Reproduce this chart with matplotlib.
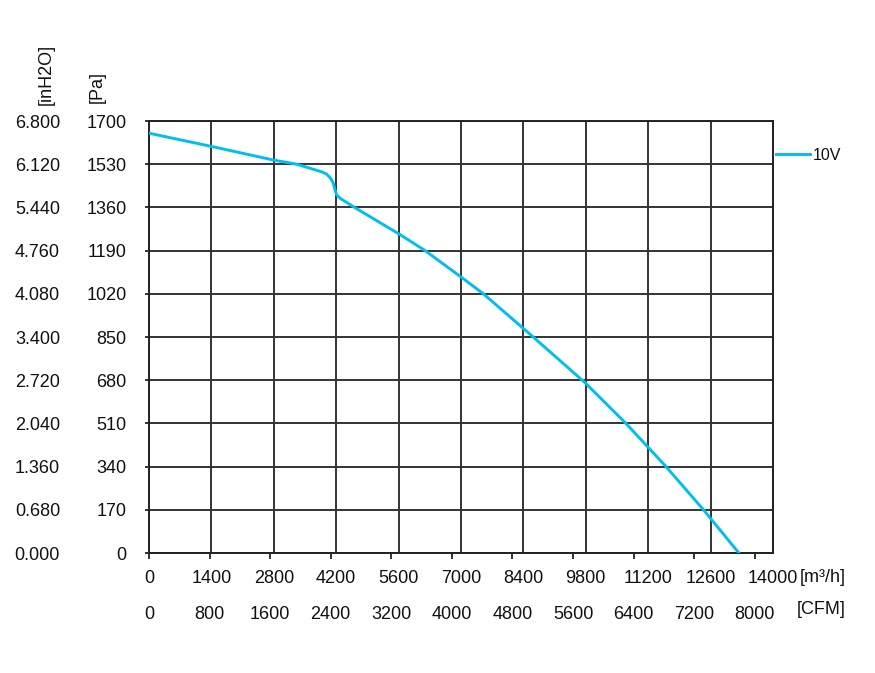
import matplotlib
matplotlib.use("Agg")
import matplotlib.pyplot as plt
import numpy as np

plt.rcParams['font.family'] = ['Liberation Sans', 'DejaVu Sans']

# Data (airflow m3/h, static pressure Pa)
flow_m3h = [0, 1400, 2800, 3314, 3875, 3987, 4077, 4136, 4174, 4212, 4286,
            4610, 5633, 6194, 7017, 7502, 8620, 9784, 10700, 11600, 12440, 13235]
pressure_pa = [1652, 1600, 1546, 1530, 1500, 1491, 1474, 1455, 1428, 1409, 1396,
               1360, 1253, 1190, 1084, 1020, 850, 670, 510, 340, 170, 0]
series_label = "10V"

x_ticks_m3h = [0, 1400, 2800, 4200, 5600, 7000, 8400, 9800, 11200, 12600, 14000]
x_ticks_cfm = [0, 800, 1600, 2400, 3200, 4000, 4800, 5600, 6400, 7200, 8000]
y_ticks_pa = [0, 170, 340, 510, 680, 850, 1020, 1190, 1360, 1530, 1700]
y_ticks_inh2o = [0.0, 0.68, 1.36, 2.04, 2.72, 3.40, 4.08, 4.76, 5.44, 6.12, 6.80]

M3H_PER_CFM = 1.699
INH2O_PER_PA = 0.004

W, H = 875, 673
fig = plt.figure(figsize=(W / 100, H / 100), dpi=100)
L, R, T, B = 149, 773, 121, 553
ax = fig.add_axes([L / W, (H - B) / H, (R - L) / W, (B - T) / H])

ax.plot(flow_m3h, pressure_pa, color='#00BFF0', lw=2.1, label=series_label,
        solid_joinstyle='round', zorder=5)

ax.set_xlim(0, 14000)
ax.set_ylim(0, 1700)
ax.set_xticks(x_ticks_m3h)
ax.set_xticklabels([str(v) for v in x_ticks_m3h])
ax.set_yticks(y_ticks_pa)
ax.set_yticklabels([str(v) for v in y_ticks_pa])
ax.grid(True, color='#333333', lw=1.4)
ax.set_axisbelow(True)
for s in ax.spines.values():
    s.set_color('#222222')
    s.set_linewidth(1.4)

fs = 13
tc = '#111111'
ax.tick_params(axis='x', length=0, pad=12, labelsize=fs, colors=tc)
ax.tick_params(axis='y', length=3, width=1.2, direction='out', pad=13,
               labelsize=fs, colors=tc)

# CFM secondary axis (bottom)
sec_x = ax.secondary_xaxis('bottom', functions=(lambda v: v / M3H_PER_CFM,
                                                lambda v: v * M3H_PER_CFM))
sec_x.set_xticks(x_ticks_cfm)
sec_x.set_xticklabels([str(v) for v in x_ticks_cfm])
sec_x.spines['bottom'].set_visible(False)
sec_x.tick_params(axis='x', length=4, width=1.2, direction='out', pad=34,
                  labelsize=fs, colors=tc)

# inH2O secondary axis (left)
sec_y = ax.secondary_yaxis('left', functions=(lambda v: v * INH2O_PER_PA,
                                              lambda v: v / INH2O_PER_PA))
sec_y.set_yticks(y_ticks_inh2o)
sec_y.set_yticklabels(["%.3f" % v for v in y_ticks_inh2o])
sec_y.spines['left'].set_visible(False)
sec_y.tick_params(axis='y', length=0, pad=64, labelsize=fs, colors=tc)

# unit labels
fig.text(46 / W, (H - 74) / H, "[inH2O]", rotation=90, ha='center', va='center',
         fontsize=fs, color=tc)
fig.text(97 / W, (H - 87) / H, "[Pa]", rotation=90, ha='center', va='center',
         fontsize=fs, color=tc)
fig.text(800 / W, (H - 578) / H, "[m³/h]", ha='left', va='center',
         fontsize=fs, color=tc)
fig.text(797 / W, (H - 609) / H, "[CFM]", ha='left', va='center',
         fontsize=fs, color=tc)

fig.legend(loc='center left', bbox_to_anchor=(776 / W, (H - 155) / H),
           frameon=False, fontsize=11.5, handlelength=2.1, handletextpad=0.2,
           borderpad=0, borderaxespad=0, labelcolor=tc)

fig.savefig("out.png", dpi=100)
